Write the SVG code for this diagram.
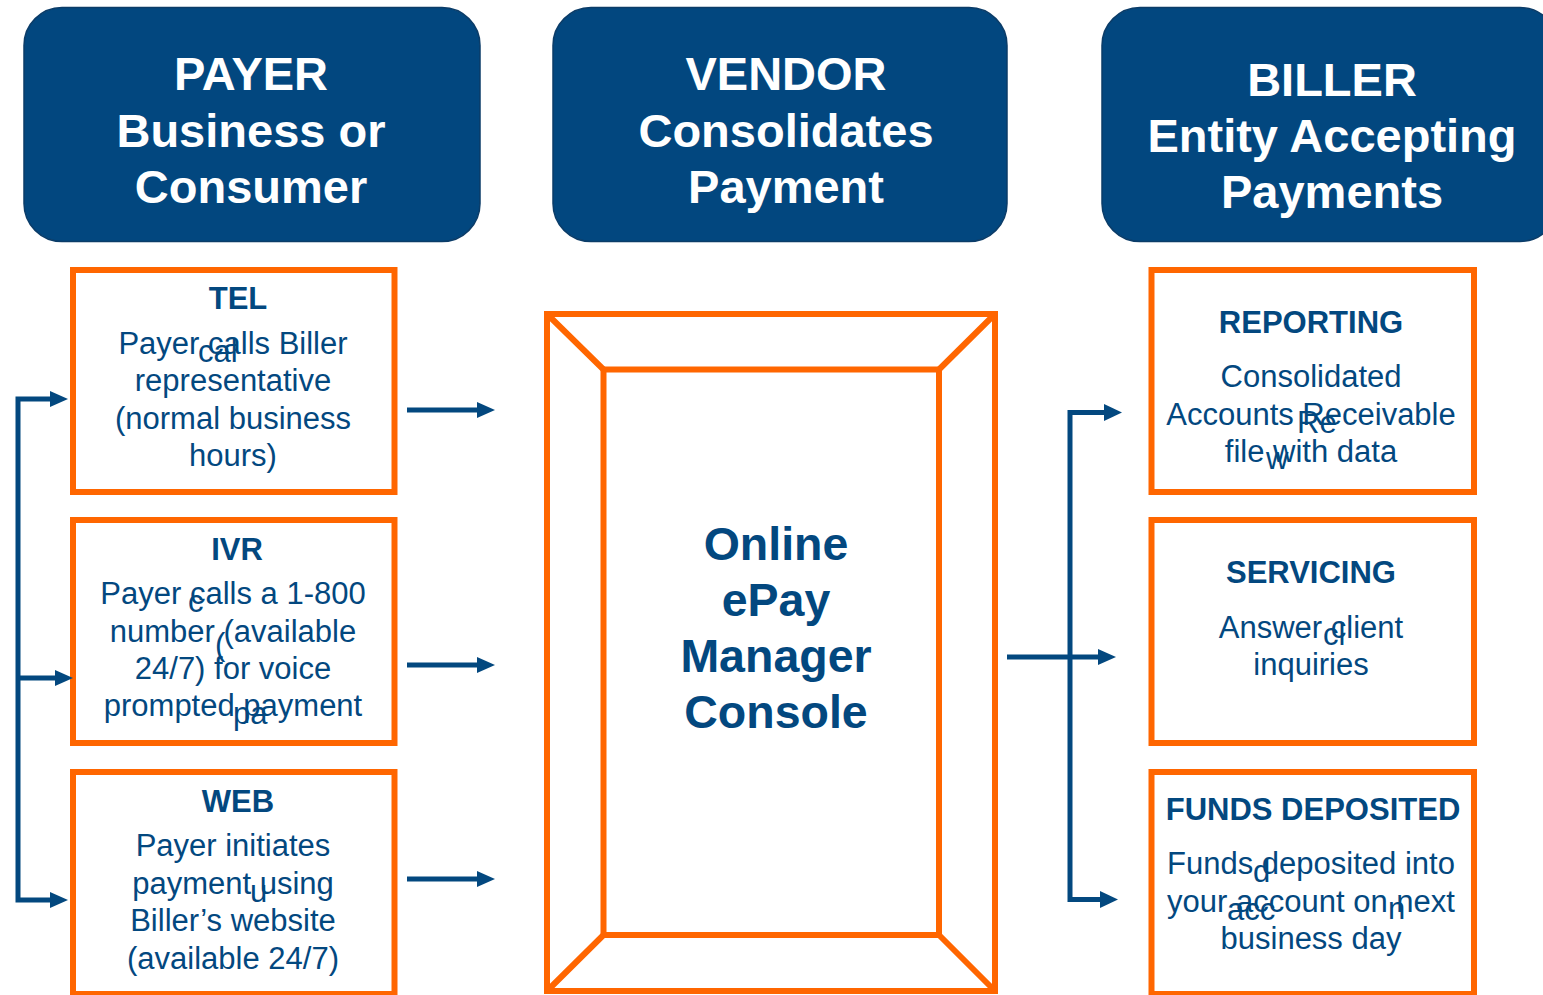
<svg xmlns="http://www.w3.org/2000/svg" width="1543" height="995" viewBox="0 0 1543 995">
  <defs>
    <style>
      .hdr { fill: #02477F; stroke: #0B3C68; stroke-width: 1.5; }
      .hdr-text { font-family: "Liberation Sans", Arial, sans-serif; font-weight: bold; font-size: 47px; fill: #FFFFFF; text-anchor: middle; }
      .card { fill: #FFFFFF; stroke: #FF6600; stroke-width: 6; }
      .title { font-family: "Liberation Sans", Arial, sans-serif; font-weight: bold; font-size: 31px; fill: #03487F; text-anchor: middle; }
      .body { font-family: "Liberation Sans", Arial, sans-serif; font-size: 31px; fill: #03487F; text-anchor: middle; }
      .frag { font-family: "Liberation Sans", Arial, sans-serif; font-size: 31px; fill: #03487F; }
      .console-text { font-family: "Liberation Sans", Arial, sans-serif; font-weight: bold; font-size: 46.5px; fill: #03487F; text-anchor: middle; }
      .bevel { fill: none; stroke: #FF6600; stroke-width: 6; stroke-linejoin: miter; }
      .wire { fill: none; stroke: #03487F; stroke-width: 5; }
      .head { fill: #03487F; }
    </style>
  </defs>

  <rect width="1543" height="995" fill="#FFFFFF"/>

  <!-- Column headers -->
  <g id="header-payer">
    <rect class="hdr" x="24" y="7.5" width="456" height="234" rx="38" ry="38"/>
    <text class="hdr-text" x="251" y="90">PAYER</text>
    <text class="hdr-text" x="251" y="147">Business or</text>
    <text class="hdr-text" x="251" y="203">Consumer</text>
  </g>
  <g id="header-vendor">
    <rect class="hdr" x="553" y="7.5" width="454" height="234" rx="38" ry="38"/>
    <text class="hdr-text" x="786" y="90">VENDOR</text>
    <text class="hdr-text" x="786" y="147">Consolidates</text>
    <text class="hdr-text" x="786" y="203">Payment</text>
  </g>
  <g id="header-biller">
    <rect class="hdr" x="1102" y="7.5" width="456" height="234" rx="38" ry="38"/>
    <text class="hdr-text" x="1332" y="96">BILLER</text>
    <text class="hdr-text" x="1332" y="152">Entity Accepting</text>
    <text class="hdr-text" x="1332" y="208">Payments</text>
  </g>

  <!-- Payment channels -->
  <g id="tel">
    <rect class="card" x="73" y="270" width="321.5" height="222"/>
    <text class="title" x="238" y="309">TEL</text>
    <text class="body" x="233" y="354">Payer calls Biller</text>
    <text class="frag" x="198" y="362">cal</text>
    <text class="body" x="233" y="391">representative</text>
    <text class="body" x="233" y="428.5">(normal business</text>
    <text class="body" x="233" y="466">hours)</text>
  </g>
  <g id="ivr">
    <rect class="card" x="73" y="520" width="321.5" height="223"/>
    <text class="title" x="237" y="560">IVR</text>
    <text class="body" x="233" y="604">Payer calls a 1-800</text>
    <text class="frag" x="188" y="612">c</text>
    <text class="body" x="233" y="641.5">number (available</text>
    <text class="frag" x="215" y="655">(</text>
    <text class="body" x="233" y="679">24/7) for voice</text>
    <text class="body" x="233" y="716">prompted payment</text>
    <text class="frag" x="233" y="724">pa</text>
  </g>
  <g id="web">
    <rect class="card" x="73" y="772" width="321.5" height="222"/>
    <text class="title" x="238" y="812">WEB</text>
    <text class="body" x="233" y="856">Payer initiates</text>
    <text class="body" x="233" y="893.5">payment using</text>
    <text class="frag" x="250" y="902">u</text>
    <text class="body" x="233" y="931">Biller’s website</text>
    <text class="body" x="233" y="968.5">(available 24/7)</text>
  </g>

  <!-- Vendor console -->
  <g id="console">
    <rect class="bevel" x="547" y="314" width="448" height="677"/>
    <rect class="bevel" x="603.5" y="369.5" width="335.5" height="565.5"/>
    <path class="bevel" d="M547 314 L603.5 369.5 M995 314 L939 369.5 M547 991 L603.5 935 M995 991 L939 935"/>
    <text class="console-text" x="776" y="560">Online</text>
    <text class="console-text" x="776" y="616">ePay</text>
    <text class="console-text" x="776" y="672">Manager</text>
    <text class="console-text" x="776" y="728">Console</text>
  </g>

  <!-- Biller services -->
  <g id="reporting">
    <rect class="card" x="1151.5" y="270" width="322.5" height="222"/>
    <text class="title" x="1311" y="333">REPORTING</text>
    <text class="body" x="1311" y="387">Consolidated</text>
    <text class="body" x="1311" y="424.5">Accounts Receivable</text>
    <text class="frag" x="1297" y="433">Re</text>
    <text class="body" x="1311" y="462">file with data</text>
    <text class="frag" x="1266" y="469">w</text>
  </g>
  <g id="servicing">
    <rect class="card" x="1151.5" y="520" width="322.5" height="223"/>
    <text class="title" x="1311" y="583">SERVICING</text>
    <text class="body" x="1311" y="638">Answer client</text>
    <text class="frag" x="1323" y="645">cl</text>
    <text class="body" x="1311" y="675">inquiries</text>
  </g>
  <g id="funds-deposited">
    <rect class="card" x="1151.5" y="772" width="322.5" height="222"/>
    <text class="title" x="1313" y="820">FUNDS DEPOSITED</text>
    <text class="body" x="1311" y="874">Funds deposited into</text>
    <text class="frag" x="1253" y="882">d</text>
    <text class="body" x="1311" y="912">your account on next</text>
    <text class="frag" x="1227" y="920">acc</text>
    <text class="frag" x="1388" y="919">n</text>
    <text class="body" x="1311" y="949">business day</text>
  </g>

  <!-- Connectors -->
  <g id="connectors">
    <!-- payer fan-in bracket -->
    <path class="wire" d="M52 399 L18 399 L18 900 L52 900 M18 678 L56 678"/>
    <polygon class="head" points="50,391 68,399 50,407"/>
    <polygon class="head" points="55,670 73,678 55,686"/>
    <polygon class="head" points="50,892 68,900 50,908"/>
    <!-- channels to console -->
    <path class="wire" d="M407 410 L480 410 M407 665 L480 665 M407 879 L480 879"/>
    <polygon class="head" points="477,402 495,410 477,418"/>
    <polygon class="head" points="477,657 495,665 477,673"/>
    <polygon class="head" points="477,871 495,879 477,887"/>
    <!-- console to biller services -->
    <path class="wire" d="M1007 657 L1100 657 M1105 412.5 L1070 412.5 L1070 899.5 L1102 899.5"/>
    <polygon class="head" points="1098,649 1116,657 1098,665"/>
    <polygon class="head" points="1104,404 1122,412.5 1104,421"/>
    <polygon class="head" points="1100,891 1118,899.5 1100,908"/>
  </g>
</svg>
